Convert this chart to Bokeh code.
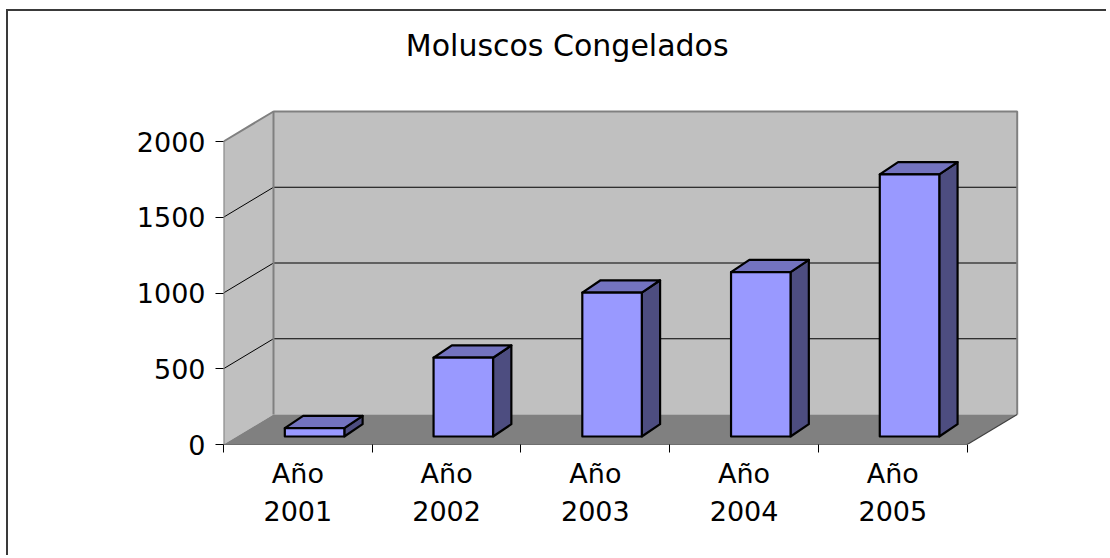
import numpy as np
from bokeh.plotting import figure
from bokeh.models import FixedTicker, Range1d, Label
from bokeh.embed import file_html
from bokeh.resources import INLINE

# ---------------- data ----------------
chart_title = "Moluscos Congelados"
categories = ["Año\n2001", "Año\n2002", "Año\n2003", "Año\n2004", "Año\n2005"]
values = [55, 520, 950, 1085, 1730]
y_ticks = [0, 500, 1000, 1500, 2000]

# ---------------- layout ----------------
W, H = 1100, 546
ML, MB, MR, MT = 215, 113, 48, 0
FRAME_W = W - ML - MR
FRAME_H = H - MB - MT
AXIS_PX_X = 743.7          # pixel length of the front category axis
AXIS_PX_Y = 303.0          # pixel length of the value axis (0..max tick)
n = len(categories)
ymax = max(y_ticks)
sx = AXIS_PX_X / n         # px per category
sy = AXIS_PX_Y / ymax      # px per value unit
x_end = FRAME_W / sx
y_end = FRAME_H / sy

# 3-D projection offsets (px -> data units)
DX, DY = 50 / sx, 30 / sy          # depth of the floor / walls
FX, FY = 16.7 / sx, 8 / sy         # bar front face offset inside the depth
BX, BY = 18.3 / sx, 12.3 / sy      # bar depth
GAP, BW = 0.3, 0.4                 # gap and bar width (category units)

p = figure(width=W, height=H, output_backend="svg", toolbar_location=None, title=None,
           x_range=Range1d(0, x_end), y_range=Range1d(0, y_end),
           min_border_left=ML, min_border_right=MR, min_border_top=MT,
           min_border_bottom=MB)
p.styles = {"margin-left": "6px", "margin-top": "9px",
            "border-left": "2px solid #3a3a3a", "border-top": "2px solid #3a3a3a"}
p.outline_line_color = None
p.background_fill_color = "white"
p.border_fill_color = "white"
p.xgrid.visible = False
p.ygrid.visible = False

# ---------------- walls & floor ----------------
WALL = "#c0c0c0"
EDGE = "#808080"
p.patch([DX, n + DX, n + DX, DX], [DY, DY, ymax + DY, ymax + DY],
        fill_color=WALL, line_color=None)
p.patch([0, DX, DX, 0], [0, DY, ymax + DY, ymax], fill_color=WALL, line_color=None)
p.patch([0, n, n + DX, DX], [0, 0, DY, DY], fill_color="#808080", line_color=None)

# gridlines on back wall and side wall
gt = np.array(y_ticks[1:-1], dtype=float)
p.segment(x0=np.full_like(gt, DX), y0=gt + DY, x1=np.full_like(gt, n + DX), y1=gt + DY,
          line_color="black", line_width=1)
p.segment(x0=np.zeros_like(gt), y0=gt, x1=np.full_like(gt, DX), y1=gt + DY,
          line_color="black", line_width=1)

# wall edges
p.line([DX, DX, n + DX, n + DX], [DY, ymax + DY, ymax + DY, DY], line_color=EDGE, line_width=2)
p.line([0, 0, DX], [0, ymax, ymax + DY], line_color=EDGE, line_width=2)
p.line([n, n + DX], [0, DY], line_color="#404040", line_width=1.2)
# front axis line
p.line([0, n], [0, 0], line_color="black", line_width=1.2)

# ---------------- bars ----------------
v = np.array(values, dtype=float)
idx = np.arange(n)
x0 = idx + GAP + FX
x1 = x0 + BW
y0 = np.full(n, FY)
y1 = FY + v

top_xs = [[a, b, b + BX, a + BX] for a, b in zip(x0, x1)]
top_ys = [[t, t, t + BY, t + BY] for t in y1]
side_xs = [[b, b + BX, b + BX, b] for b in x1]
side_ys = [[s, s + BY, t + BY, t] for s, t in zip(y0, y1)]

p.patches(side_xs, side_ys, fill_color="#4d4d80", line_color="black", line_width=2.2,
          line_join="round")
p.patches(top_xs, top_ys, fill_color="#7373bf", line_color="black", line_width=2.2,
          line_join="round")
p.quad(left=x0, right=x1, bottom=y0, top=y1, fill_color="#9999ff",
       line_color="black", line_width=2.2, line_join="round")

# ---------------- axes ----------------
centers = [i + 0.5 for i in range(n)]
p.xaxis.ticker = FixedTicker(ticks=centers, minor_ticks=list(range(n + 1)))
p.xaxis.major_label_overrides = {c: lab for c, lab in zip(centers, categories)}
p.xaxis.axis_line_color = None
p.xaxis.major_tick_in = 0
p.xaxis.major_tick_out = 0
p.xaxis.minor_tick_in = 0
p.xaxis.minor_tick_out = 8
p.xaxis.minor_tick_line_color = "black"
p.xaxis.major_label_standoff = 5
p.xaxis.major_label_text_font = "DejaVu Sans"
p.xaxis.major_label_text_font_size = "27px"
p.xaxis.major_label_text_color = "black"
p.xaxis.major_label_text_line_height = 1.25

p.yaxis.ticker = FixedTicker(ticks=y_ticks, minor_ticks=[])
p.yaxis.axis_line_color = None
p.yaxis.major_tick_in = 0
p.yaxis.major_tick_out = 8
p.yaxis.major_tick_line_color = "black"
p.yaxis.minor_tick_line_color = None
p.yaxis.major_label_standoff = 10
p.yaxis.major_label_text_font = "DejaVu Sans"
p.yaxis.major_label_text_font_size = "27px"
p.yaxis.major_label_text_color = "black"

# ---------------- title (screen offsets from the frame's bottom-left) ----------------
title_label = Label(x=343.7, y=399, x_units="screen", y_units="screen",
                    text=chart_title, text_font="DejaVu Sans", text_font_size="30px",
                    text_color="black", text_align="center", text_baseline="alphabetic")
p.add_layout(title_label)

open("out.html", "w", encoding="utf-8").write(file_html(p, INLINE))
